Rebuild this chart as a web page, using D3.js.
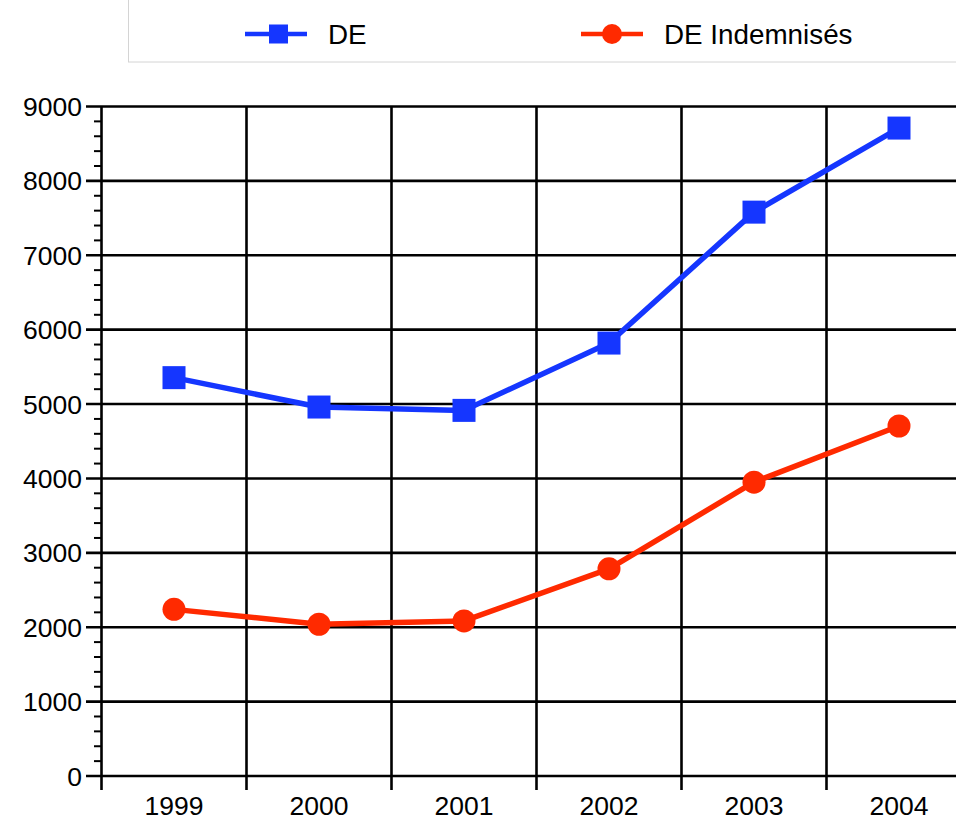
<!DOCTYPE html>
<html>
<head>
<meta charset="utf-8">
<script src="https://cdn.jsdelivr.net/npm/d3@7.9.0/dist/d3.min.js"></script>
<style>
    html, body { margin: 0; padding: 0; background: #fff; overflow: hidden; }
    svg { display: block; font-family: "Liberation Sans", Arial, Helvetica, sans-serif; }
</style>
</head>
<body>
<svg id="chart" width="956" height="821"></svg>
<script>
const years = ['1999', '2000', '2001', '2002', '2003', '2004'];
const deValues = [5355, 4960, 4915, 5820, 7580, 8710];
const indemValues = [2240, 2040, 2085, 2785, 3950, 4705];
const yTicks = [0, 1000, 2000, 3000, 4000, 5000, 6000, 7000, 8000, 9000];
const seriesNames = ['DE', 'DE Indemnisés'];
const seriesColors = ['#1536ff', '#ff2a00'];

const svg = d3.select('#chart');

const x = d3.scaleBand().domain(years).range([101.5, 971.5]).padding(0);
const y = d3.scaleLinear().domain([0, 9000]).range([776, 106.5]);
const yMinor = d3.range(0, 9000, 200).filter((v) => v % 1000 !== 0);

// legend box (runs off the right edge like the original)
const legend = svg.append('g');
legend.append('rect')
    .attr('x', 128.5).attr('y', -2)
    .attr('width', 900).attr('height', 64)
    .attr('fill', '#fff')
    .attr('stroke', '#d4d4d4')
    .attr('stroke-width', 1);

const legendX = [245, 581];
seriesNames.forEach((name, i) => {
    const g = legend.append('g').attr('transform', `translate(${legendX[i]},34)`);
    g.append('line')
        .attr('x1', 0).attr('x2', 62)
        .attr('stroke', seriesColors[i])
        .attr('stroke-width', 4.5);
    if (i === 0) {
        g.append('rect')
            .attr('x', 24).attr('y', -9.5)
            .attr('width', 19).attr('height', 19)
            .attr('fill', seriesColors[i]);
    } else {
        g.append('circle')
            .attr('cx', 31).attr('r', 10)
            .attr('fill', seriesColors[i]);
    }
    g.append('text')
        .attr('x', 83).attr('y', 9.5)
        .attr('font-size', 27.8)
        .attr('fill', '#000')
        .text(name);
});

// horizontal grid + major ticks
svg.append('g')
    .selectAll('line')
    .data(yTicks)
    .enter()
    .append('line')
    .attr('x1', 86).attr('x2', 980)
    .attr('y1', (d) => y(d)).attr('y2', (d) => y(d))
    .attr('stroke', '#000')
    .attr('stroke-width', 2.6);

// minor ticks
svg.append('g')
    .selectAll('line')
    .data(yMinor)
    .enter()
    .append('line')
    .attr('x1', 94).attr('x2', x.range()[0])
    .attr('y1', (d) => y(d)).attr('y2', (d) => y(d))
    .attr('stroke', '#000')
    .attr('stroke-width', 2);

// vertical grid lines, extended below the axis as ticks
const xEdges = years.map((d) => x(d)).concat([x.range()[1]]);
svg.append('g')
    .selectAll('line')
    .data(xEdges)
    .enter()
    .append('line')
    .attr('x1', (d) => d).attr('x2', (d) => d)
    .attr('y1', y(9000)).attr('y2', 790)
    .attr('stroke', '#000')
    .attr('stroke-width', 2.6);

// y labels
svg.append('g')
    .selectAll('text')
    .data(yTicks)
    .enter()
    .append('text')
    .attr('x', 82)
    .attr('y', (d) => y(d))
    .attr('dy', '0.36em')
    .attr('text-anchor', 'end')
    .attr('font-size', 26.5)
    .text((d) => d);

// x labels
svg.append('g')
    .selectAll('text')
    .data(years)
    .enter()
    .append('text')
    .attr('x', (d) => x(d) + x.bandwidth() / 2)
    .attr('y', 815)
    .attr('text-anchor', 'middle')
    .attr('font-size', 26.5)
    .text((d) => d);

// series
const cx = (d, i) => x(years[i]) + x.bandwidth() / 2;
const line = d3.line().x(cx).y((d) => y(d));

[deValues, indemValues].forEach((values, s) => {
    const g = svg.append('g');
    g.append('path')
        .datum(values)
        .attr('d', line)
        .attr('fill', 'none')
        .attr('stroke', seriesColors[s])
        .attr('stroke-width', 5.5)
        .attr('stroke-linejoin', 'round');

    if (s === 0) {
        g.selectAll('rect')
            .data(values)
            .enter()
            .append('rect')
            .attr('x', (d, i) => cx(d, i) - 11.5)
            .attr('y', (d) => y(d) - 11.5)
            .attr('width', 23).attr('height', 23)
            .attr('fill', seriesColors[s]);
    } else {
        g.selectAll('circle')
            .data(values)
            .enter()
            .append('circle')
            .attr('cx', cx)
            .attr('cy', (d) => y(d))
            .attr('r', 11.5)
            .attr('fill', seriesColors[s]);
    }
});
</script>
</body>
</html>
